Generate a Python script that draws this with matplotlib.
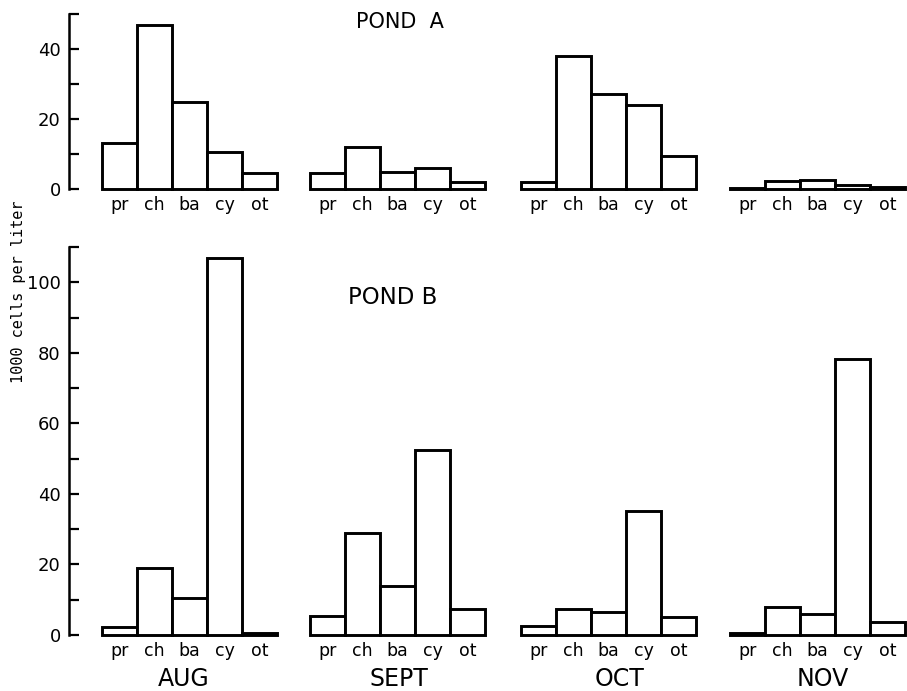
import matplotlib
matplotlib.use("Agg")
import matplotlib.pyplot as plt
import numpy as np

# data (1000 cells per liter)
categories = ["pr", "ch", "ba", "cy", "ot"]
months = ["AUG", "SEPT", "OCT", "NOV"]

pond_a_aug = [13.1, 46.9, 24.8, 10.6, 4.6]
pond_a_sept = [4.5, 12.1, 4.9, 5.9, 2.1]
pond_a_oct = [2.0, 38.0, 27.0, 24.0, 9.3]
pond_a_nov = [0.4, 2.3, 2.5, 1.0, 0.6]

pond_b_aug = [2.3, 19.0, 10.5, 107.0, 0.5]
pond_b_sept = [5.5, 29.0, 14.0, 52.5, 7.3]
pond_b_oct = [2.6, 7.4, 6.6, 35.2, 5.1]
pond_b_nov = [0.5, 8.0, 6.0, 78.3, 3.7]

# layout, in pixels of the 907x691 canvas
W, H = 907, 691
group_start = [102, 310, 521, 730]
bar_w = 35
axis_x = 69

fig = plt.figure(figsize=(W / 100, H / 100), dpi=100)
fig.patch.set_facecolor("white")


def px_axes(top, bottom):
    # axes from x=axis_x to the right edge, between pixel rows top/bottom
    return fig.add_axes([axis_x / W, 1 - bottom / H, 1 - axis_x / W, (bottom - top) / H])


def panel(ax, series, ymax, major, title, title_xy, title_size):
    centers = []
    for g, vals in enumerate(series):
        x = group_start[g] + bar_w * np.arange(len(vals))
        bars = ax.bar(x, vals, width=bar_w, align="edge", facecolor="white",
                      edgecolor="black", linewidth=2.1, zorder=3)
        for b in bars:
            b.set_clip_on(False)
            b.set_joinstyle("miter")
        centers.extend(x + bar_w / 2)
    ax.set_xlim(axis_x, W)
    ax.set_ylim(0, ymax)
    for s in ["top", "right", "bottom"]:
        ax.spines[s].set_visible(False)
    ax.spines["left"].set_linewidth(1.8)
    ax.set_yticks(np.arange(0, ymax + 1, major))
    ax.set_yticks(np.arange(0, ymax + 1, 10), minor=True)
    ax.tick_params(axis="y", which="both", direction="in", length=7, width=1.6,
                   labelsize=13, pad=6)
    ax.set_xticks(centers)
    ax.set_xticklabels(categories * len(series), fontsize=12.5)
    ax.tick_params(axis="x", length=0, pad=5)
    ax.patch.set_alpha(0)
    fig.text(title_xy[0] / W, 1 - title_xy[1] / H, title, fontsize=title_size,
             ha="center", va="center")


ax_a = px_axes(14, 189)
panel(ax_a, [pond_a_aug, pond_a_sept, pond_a_oct, pond_a_nov], 50, 20,
      "POND  A", (400, 22), 15)

ax_b = px_axes(247, 635)
panel(ax_b, [pond_b_aug, pond_b_sept, pond_b_oct, pond_b_nov], 110, 20,
      "POND B", (393, 297), 16.5)

month_x = [184, 399, 620, 823]
for m, mx in zip(months, month_x):
    fig.text(mx / W, 1 - 679 / H, m, fontsize=17, ha="center", va="center")

fig.text(19 / W, 1 - 292 / H, "1000 cells per liter", rotation=90,
         fontsize=11, family="DejaVu Sans Mono", ha="center", va="center")

fig.savefig("out.png", dpi=100, facecolor="white")
